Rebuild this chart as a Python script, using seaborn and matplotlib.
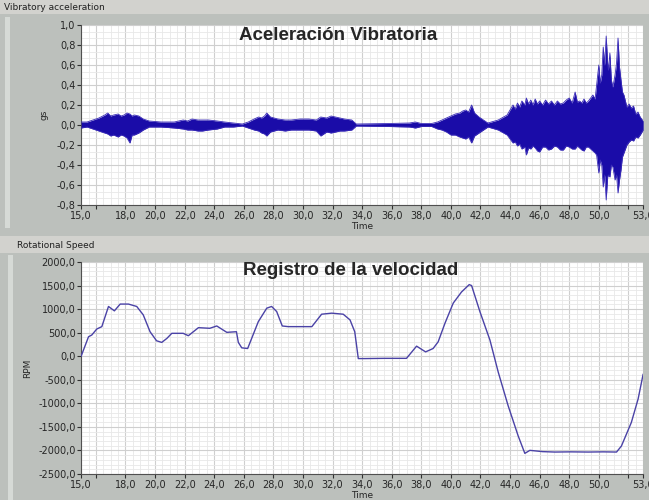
import numpy as np
import pandas as pd
import seaborn as sns
from matplotlib import pyplot as plt
from matplotlib.ticker import FixedLocator, MultipleLocator, FuncFormatter
from matplotlib.patches import Rectangle

sns.set_style("white")
plt.rcParams["font.family"] = ["DejaVu Sans"]

# Vibratory acceleration: envelope of the signal (gs)
vib_time = [15.0, 15.4, 15.8, 16.2, 16.6, 16.8, 17.0, 17.2, 17.5, 17.7, 17.9, 18.1, 18.3,
            18.45, 18.6, 18.9, 19.2, 19.6, 20.4, 21.3, 21.9, 22.2, 22.5, 22.9, 23.2, 23.6,
            24.2, 24.7, 25.3, 25.9, 26.3, 26.7, 27.0, 27.2, 27.4, 27.55, 27.8, 28.3, 28.8,
            29.2, 29.8, 30.4, 30.9, 31.2, 31.6, 31.9, 32.2, 32.5, 32.8, 33.3, 33.6, 35.8,
            37.2, 37.6, 38.0, 38.7, 39.1, 39.4, 39.7, 40.0, 40.3, 40.6, 40.8, 41.0, 41.2,
            41.4, 41.6, 41.9, 42.5, 43.2, 43.8, 44.0, 44.2, 44.35, 44.5, 44.65, 44.8,
            45.0, 45.1, 45.25, 45.4, 45.55, 45.7, 45.85, 46.0, 46.2, 46.4, 46.6, 46.8,
            47.0, 47.2, 47.4, 47.6, 47.8, 48.0, 48.2, 48.4, 48.55, 48.7, 48.85, 49.0,
            49.15, 49.3, 49.45, 49.6, 49.75, 49.85, 50.0, 50.1, 50.2, 50.3, 50.4, 50.5,
            50.6, 50.65, 50.75, 50.85, 50.95, 51.1, 51.2, 51.3, 51.4, 51.5, 51.6, 51.7,
            51.9, 52.05, 52.2, 52.35, 52.5, 52.65, 52.8, 53.0]
vib_upper = [0.03, 0.03, 0.05, 0.07, 0.10, 0.12, 0.09, 0.10, 0.11, 0.09, 0.10, 0.12, 0.11,
             0.09, 0.10, 0.09, 0.06, 0.04, 0.03, 0.03, 0.05, 0.04, 0.06, 0.05, 0.05, 0.05,
             0.04, 0.03, 0.02, 0.01, 0.03, 0.06, 0.08, 0.07, 0.09, 0.12, 0.08, 0.06, 0.05,
             0.05, 0.06, 0.06, 0.05, 0.08, 0.07, 0.09, 0.08, 0.07, 0.06, 0.05, 0.01, 0.015,
             0.02, 0.03, 0.015, 0.015, 0.03, 0.05, 0.07, 0.09, 0.11, 0.12, 0.14, 0.15, 0.13,
             0.20, 0.12, 0.08, 0.02, 0.05, 0.10, 0.15, 0.20, 0.16, 0.22, 0.18, 0.24,
             0.20, 0.27, 0.21, 0.25, 0.20, 0.26, 0.21, 0.24, 0.20, 0.25, 0.21, 0.24,
             0.20, 0.24, 0.21, 0.22, 0.25, 0.27, 0.22, 0.33, 0.23, 0.24, 0.22, 0.26,
             0.22, 0.24, 0.27, 0.30, 0.26, 0.40, 0.60, 0.42, 0.50, 0.78, 0.60, 0.89,
             0.62, 0.55, 0.72, 0.45, 0.38, 0.50, 0.62, 0.87, 0.58, 0.45, 0.33, 0.30,
             0.18, 0.21, 0.17, 0.19, 0.11, 0.13, 0.08, 0.04]
vib_lower = [-0.03, -0.02, -0.04, -0.06, -0.08, -0.09, -0.11, -0.10, -0.12, -0.10, -0.11, -0.13, -0.18,
             -0.10, -0.10, -0.08, -0.05, -0.02, -0.02, -0.03, -0.04, -0.05, -0.05, -0.06, -0.06, -0.05,
             -0.04, -0.02, -0.02, -0.01, -0.03, -0.05, -0.06, -0.08, -0.09, -0.11, -0.07, -0.05, -0.06,
             -0.05, -0.05, -0.05, -0.06, -0.11, -0.07, -0.08, -0.07, -0.06, -0.06, -0.05, -0.01, -0.015,
             -0.02, -0.03, -0.015, -0.015, -0.04, -0.05, -0.07, -0.10, -0.10, -0.12, -0.13, -0.14, -0.12,
             -0.18, -0.11, -0.08, -0.02, -0.05, -0.10, -0.14, -0.18, -0.17, -0.21, -0.19, -0.24,
             -0.22, -0.30, -0.23, -0.24, -0.21, -0.23, -0.26, -0.27, -0.22, -0.22, -0.25, -0.24,
             -0.21, -0.22, -0.25, -0.25, -0.21, -0.22, -0.24, -0.24, -0.21, -0.23, -0.25, -0.26,
             -0.22, -0.22, -0.24, -0.26, -0.28, -0.30, -0.48, -0.35, -0.40, -0.62, -0.50, -0.75,
             -0.52, -0.50, -0.52, -0.40, -0.42, -0.55, -0.50, -0.68, -0.55, -0.45, -0.32, -0.28,
             -0.20, -0.17, -0.15, -0.16, -0.12, -0.13, -0.10, -0.05]

# Rotational speed (RPM)
speed_time = [15.0, 15.5, 15.72, 16.06, 16.4, 16.85, 17.25, 17.64, 18.2, 18.76, 19.2,
              19.66, 20.1, 20.45, 20.8, 21.13, 21.9, 22.25, 22.93, 23.7, 24.17, 24.85,
              25.5, 25.63, 25.86, 26.26, 26.98, 27.55, 27.88, 28.22, 28.6, 29.0, 30.6,
              31.26, 31.94, 32.72, 33.18, 33.5, 33.74, 34.2, 35.5, 37.0, 37.68, 38.29,
              38.8, 39.14, 39.6, 40.16, 40.72, 41.24, 41.4, 41.96, 42.64, 43.2, 43.87,
              44.55, 45.0, 45.34, 46.2, 47.03, 48.1, 49.28, 50.3, 51.2, 51.53, 52.2,
              52.66, 53.0]
speed_rpm = [0, 413, 450, 578, 628, 1056, 963, 1107, 1107, 1056, 878,
             520, 328, 293, 379, 486, 486, 435, 606, 593, 642, 507,
             520, 293, 178, 164, 734, 1020, 1056, 949, 642, 628, 628,
             892, 914, 892, 771, 520, -50, -50, -45, -45, 214, 92,
             164, 306, 700, 1128, 1364, 1520, 1500, 949, 343, -336, -1050,
             -1692, -2062, -1998, -2025, -2034, -2030, -2034, -2030, -2034, -1906, -1407,
             -906, -380]

x_major = [15, 16, 18, 20, 22, 24, 26, 28, 30, 32, 34, 36, 38, 40, 42, 44, 46, 48, 50, 52, 53]
x_hidden = [16, 52]

vib = pd.DataFrame({"Time": vib_time, "upper": vib_upper, "lower": vib_lower})
speed = pd.DataFrame({"Time": speed_time, "RPM": speed_rpm})

panel = "#bcc0bc"
fig = plt.figure(figsize=(6.49, 5), dpi=100, facecolor=panel)

# panel decorations (header bars and light left strips)
fig.patches.append(Rectangle((0, 0.972), 1, 0.028, transform=fig.transFigure,
                             facecolor="#d2d2ce", edgecolor="none", zorder=0))
fig.patches.append(Rectangle((0, 0.494), 1, 0.034, transform=fig.transFigure,
                             facecolor="#d2d2ce", edgecolor="none", zorder=0))
fig.patches.append(Rectangle((0.008, 0.545), 0.008, 0.42, transform=fig.transFigure,
                             facecolor="#d6dad6", edgecolor="none", zorder=0))
fig.patches.append(Rectangle((0.012, 0.0), 0.008, 0.49, transform=fig.transFigure,
                             facecolor="#d6dad6", edgecolor="none", zorder=0))
fig.text(0.006, 0.986, "Vibratory acceleration", fontsize=6.5, va="center", color="#202020")
fig.text(0.026, 0.509, "Rotational Speed", fontsize=6.5, va="center", color="#202020")

ax1 = fig.add_axes([0.125, 0.59, 0.866, 0.36])
ax2 = fig.add_axes([0.125, 0.052, 0.866, 0.424])

comma = FuncFormatter(lambda v, p: "" if v in x_hidden else f"{v:.1f}".replace(".", ","))

# top: vibratory acceleration
blue = "#1a0ca8"
ax1.fill_between(vib["Time"], vib["lower"], vib["upper"], color=blue, linewidth=0, zorder=3)
sns.lineplot(data=vib, x="Time", y="upper", ax=ax1, color="#3a2cb8", linewidth=0.6, zorder=3)
sns.lineplot(data=vib, x="Time", y="lower", ax=ax1, color="#3a2cb8", linewidth=0.6, zorder=3)
ax1.set_ylim(-0.8, 1.0)
ax1.yaxis.set_major_locator(MultipleLocator(0.2))
ax1.yaxis.set_minor_locator(MultipleLocator(0.2 / 3))
ax1.set_ylabel("gs", fontsize=6.5, labelpad=6)
ax1.text(0.457, 0.94, "Aceleración Vibratoria", transform=ax1.transAxes, ha="center", va="center",
         fontsize=13.5, fontweight="bold", family="Liberation Sans", zorder=5)

# bottom: rotational speed
sns.lineplot(data=speed, x="Time", y="RPM", ax=ax2, color="#4a42a6", linewidth=1.0, zorder=3)
ax2.set_ylim(-2500, 2000)
ax2.yaxis.set_major_locator(MultipleLocator(500))
ax2.yaxis.set_minor_locator(MultipleLocator(100))
ax2.set_ylabel("RPM", fontsize=6.5, labelpad=4)
ax2.text(0.48, 0.962, "Registro de la velocidad", transform=ax2.transAxes, ha="center", va="center",
         fontsize=13.5, fontweight="bold", family="Liberation Sans", zorder=5)

for ax in (ax1, ax2):
    ax.set_facecolor("white")
    ax.set_xlim(15, 53)
    ax.xaxis.set_major_locator(FixedLocator(x_major))
    ax.xaxis.set_minor_locator(MultipleLocator(0.5))
    ax.xaxis.set_major_formatter(comma)
    ax.yaxis.set_major_formatter(FuncFormatter(lambda v, p: f"{v:.1f}".replace(".", ",")))
    ax.grid(which="major", color="#cfcfcf", linewidth=0.8)
    ax.grid(which="minor", color="#e8e8e8", linewidth=0.6)
    ax.set_axisbelow(True)
    ax.tick_params(which="major", direction="out", length=3, width=0.8, color="#303030",
                   labelsize=7, pad=1, bottom=True, left=True)
    ax.tick_params(which="minor", length=0)
    ax.set_xlabel("Time", fontsize=6.5, labelpad=1)
    for s in ("top", "right"):
        ax.spines[s].set_visible(False)
    for s in ("left", "bottom"):
        ax.spines[s].set_color("#505050")
        ax.spines[s].set_linewidth(0.8)

fig.savefig("out.png", dpi=100, facecolor=panel)
